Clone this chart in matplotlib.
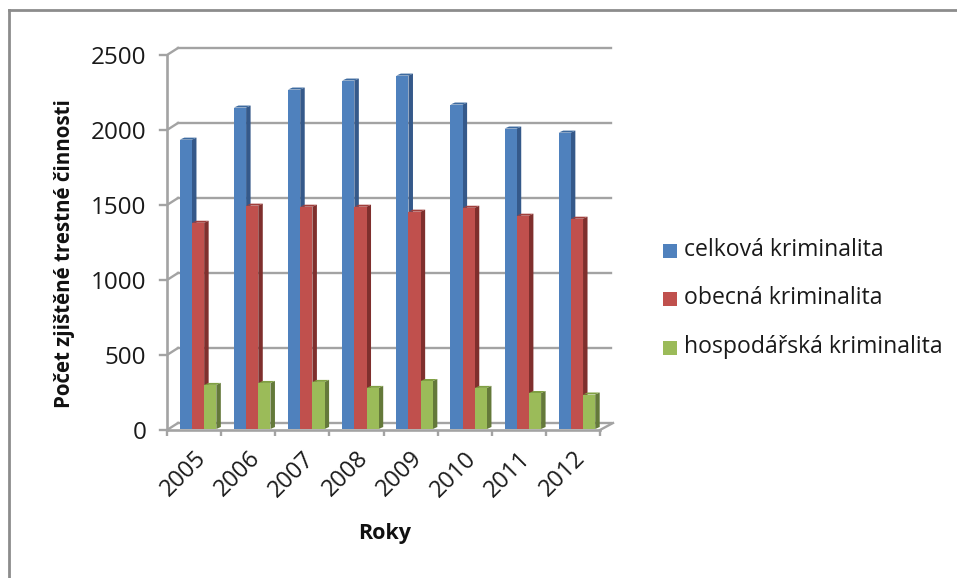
import matplotlib
matplotlib.use("Agg")
import matplotlib.pyplot as plt
from matplotlib.lines import Line2D
from matplotlib.patches import Polygon, Rectangle
from matplotlib.transforms import Affine2D, IdentityTransform

plt.rcParams['font.family'] = ['Open Sans', 'DejaVu Sans']

roky = ['2005', '2006', '2007', '2008', '2009', '2010', '2011', '2012']
celkova = [1929, 2143, 2263, 2323, 2356, 2163, 2003, 1976]
obecna = [1375, 1489, 1482, 1482, 1449, 1475, 1422, 1402]
hospodarska = [294, 307, 314, 274, 320, 274, 240, 230]
nazvy = ['celková kriminalita', 'obecná kriminalita', 'hospodářská kriminalita']
yticks = [0, 500, 1000, 1500, 2000, 2500]

W, H = 957, 578
fig = plt.figure(figsize=(W / 100, H / 100), dpi=100)
ax = fig.add_axes([167 / W, 1 - 430 / H, 433 / W, 375 / H])
ax.set_xlim(0, len(roky))
ax.set_ylim(0, 2500)
ax.patch.set_visible(False)
for s in ax.spines.values():
    s.set_visible(False)

seda = '#a3a3a3'
px = IdentityTransform()


# posun o pixely vuci datovym souradnicim
def posun(dx, dy):
    return ax.transData + Affine2D().translate(dx, dy)


# zadni stena - mrizka
for t in yticks:
    ax.plot([0, len(roky)], [t, t], color=seda, lw=1.7, clip_on=False, transform=posun(11, 7), zorder=1)
    # sikma spojnice z leve hrany a carka osy
    p0 = ax.transData.transform((0, t))
    ax.add_line(Line2D([p0[0] - 7, p0[0], p0[0] + 11], [p0[1], p0[1], p0[1] + 7], color=seda, lw=1.7,
                       transform=px, clip_on=False, zorder=1))

# prava sikma hrana podlahy
p1 = ax.transData.transform((len(roky), 0))
ax.add_line(Line2D([p1[0], p1[0] + 13], [p1[1], p1[1] + 7], color=seda, lw=1.7,
                   transform=px, clip_on=False, zorder=1))

# predni osy
ax.plot([0, 0], [0, 2500], color=seda, lw=1.9, clip_on=False, zorder=2)
ax.plot([0, len(roky)], [0, 0], color=seda, lw=1.9, clip_on=False, zorder=2)

ax.set_yticks(yticks)
ax.set_xticks(list(range(len(roky) + 1)))
ax.set_xticks([i + 0.5 for i in range(len(roky))], minor=True)
ax.set_xticklabels([])
ax.set_xticklabels(roky, minor=True, rotation=45, ha='right', rotation_mode='anchor', fontsize=17, color='#1a1a1a')
ax.tick_params(axis='x', which='major', length=4.5, width=1.7, color=seda)
ax.tick_params(axis='x', which='minor', length=0, pad=12)
ax.tick_params(axis='y', length=0, pad=15, labelsize=17.5, labelcolor='#1a1a1a')

barvy = [('#4f81bd', '#35598a', '#3d6a9f'), ('#c0504d', '#7f2f2d', '#a03f3c'), ('#9bbb59', '#64793a', '#80a043')]
serie = [celkova, obecna, hospodarska]
sirka = 0.225
dx_bar, dy_bar = 4, 1
hl_x, hl_y = 4.5, 2

# sloupce: predni stena pres ax.bar, bok a vrsek jako polygony
for k, (hodnoty, (c, bok, vrch)) in enumerate(zip(serie, barvy)):
    z = 5 + k * 0.1
    for i, v in enumerate(hodnoty):
        x0 = i + 0.5 + (k - 1.5) * sirka
        x1 = x0 + sirka
        ax.bar(x0, v, sirka, align='edge', color=c, lw=0, transform=posun(dx_bar, dy_bar), zorder=z + 0.05,
               clip_on=False)
        a = ax.transData.transform((x1, 0)) + (dx_bar, dy_bar)
        b = ax.transData.transform((x1, v)) + (dx_bar, dy_bar)
        l = ax.transData.transform((x0, v)) + (dx_bar, dy_bar)
        ax.add_patch(Polygon([a, b, b + (hl_x, hl_y), a + (hl_x, hl_y)], closed=True, color=bok, lw=0,
                             transform=px, zorder=z, clip_on=False))
        ax.add_patch(Polygon([l, b, b + (hl_x, hl_y), l + (hl_x, hl_y)], closed=True, color=vrch, lw=0,
                             transform=px, zorder=z, clip_on=False))

fig.text(384.5 / W, 1 - 534 / H, 'Roky', fontsize=15.5, fontweight='bold', color='#111111', ha='center', va='center')
fig.text(65 / W, 1 - 254 / H, 'Počet zjištěné trestné činnosti', fontsize=14.8, fontweight='bold', color='#111111',
         rotation=90, ha='center', va='center')

# legenda
for (c, _, _), nazev, y in zip(barvy, nazvy, [251, 299, 348]):
    fig.add_artist(Rectangle((663 / W, 1 - (y + 7) / H), 14 / W, 14 / H, color=c, lw=0,
                             transform=fig.transFigure))
    fig.text(684 / W, 1 - (y - 1) / H, nazev, fontsize=16.6, va='center', color='#1a1a1a')

# ramecek grafu
fig.add_artist(Line2D([9 / W, 9 / W], [0, 1 - 10 / H], color='#8c8c8c', lw=2))
fig.add_artist(Line2D([9 / W, 1], [1 - 10 / H, 1 - 10 / H], color='#8c8c8c', lw=2))

fig.savefig('out.png', dpi=100)
